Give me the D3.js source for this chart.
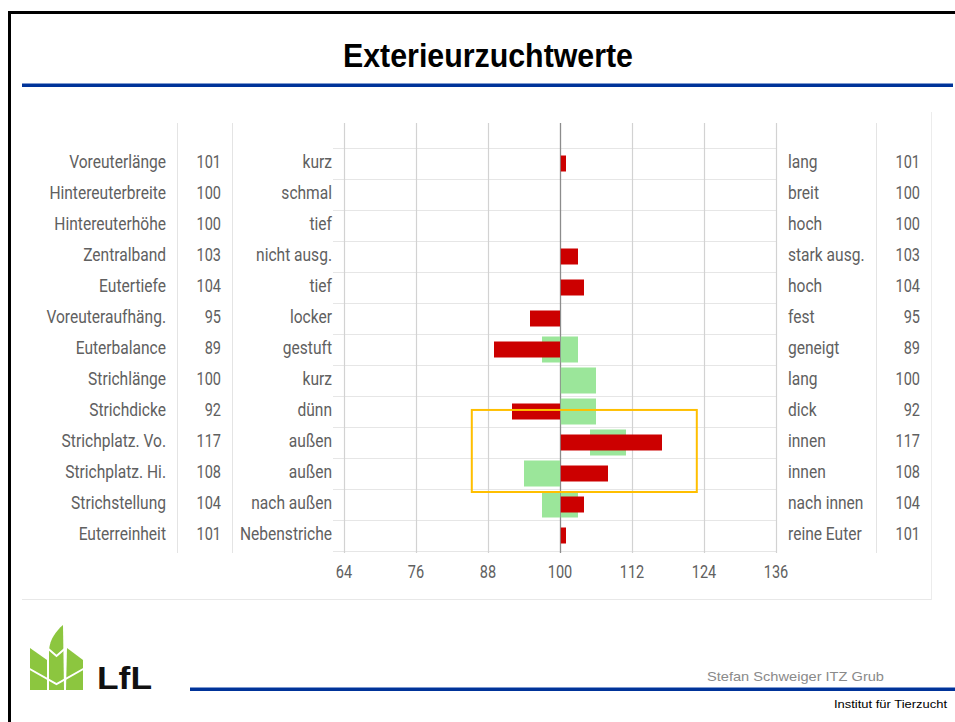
<!DOCTYPE html>
<html>
<head>
<meta charset="utf-8">
<script src="https://cdn.jsdelivr.net/npm/d3@7"></script>
<style>
  html, body { margin: 0; padding: 0; background: #fff; }
  svg { display: block; }
</style>
</head>
<body>
<svg id="chart" width="955" height="722"></svg>
<script>
// ---------- data ----------
const traits = ["Voreuterlänge","Hintereuterbreite","Hintereuterhöhe","Zentralband","Eutertiefe","Voreuteraufhäng.","Euterbalance","Strichlänge","Strichdicke","Strichplatz. Vo.","Strichplatz. Hi.","Strichstellung","Euterreinheit"];
const values = [101,100,100,103,104,95,89,100,92,117,108,104,101];
const leftLabels = ["kurz","schmal","tief","nicht ausg.","tief","locker","gestuft","kurz","dünn","außen","außen","nach außen","Nebenstriche"];
const rightLabels = ["lang","breit","hoch","stark ausg.","hoch","fest","geneigt","lang","dick","innen","innen","nach innen","reine Euter"];
const greenFrom = [null,null,null,null,null,null,97,100,100,105,94,97,null];
const greenTo   = [null,null,null,null,null,null,103,106,106,111,100,103,null];
const xTicks = [64,76,88,100,112,124,136];
const highlightX = [85.3, 122.8];
const highlightRows = ["Strichdicke","Strichstellung"];
const titleText = "Exterieurzuchtwerte";
const authorText = "Stefan Schweiger ITZ Grub";
const instituteText = "Institut für Tierzucht";
const logoText = "LfL";

// ---------- setup ----------
const svg = d3.select("#chart");
const x = d3.scaleLinear().domain([64,136]).range([344,776]);
const y = d3.scaleBand().domain(traits).range([148,551]).padding(0);
const bw = y.bandwidth();
const rows = traits.map((t,i)=>({t, v: values[i], l: leftLabels[i], r: rightLabels[i], g0: greenFrom[i], g1: greenTo[i]}));

const labelColor = "#606060";
const FONT = "Roboto, 'Noto Sans', sans-serif";

// page frame
svg.append("rect").attr("x",8).attr("y",11).attr("width",3).attr("height",720).attr("fill","#000");
svg.append("rect").attr("x",8).attr("y",11).attr("width",950).attr("height",3).attr("fill","#000");

// title
svg.append("text").attr("x",488).attr("y",67).attr("text-anchor","middle")
  .attr("font-family","'Liberation Sans Narrow','Liberation Sans',Arial,sans-serif")
  .attr("font-weight","bold").attr("font-size",34)
  .attr("textLength",290).attr("lengthAdjust","spacingAndGlyphs")
  .attr("fill","#000").text(titleText);

// blue rule under title
svg.append("rect").attr("x",22).attr("y",83).attr("width",931).attr("height",1).attr("fill","#7f9ad0");
svg.append("rect").attr("x",22).attr("y",84).attr("width",931).attr("height",3).attr("fill","#003399");

// panel border (light)
svg.append("line").attr("x1",22).attr("x2",932).attr("y1",599.5).attr("y2",599.5).attr("stroke","#e8e8e8");
svg.append("line").attr("x1",931.5).attr("x2",931.5).attr("y1",112).attr("y2",600).attr("stroke","#ececec");

// column separators
[177,232,876].forEach(cx=>{
  svg.append("line").attr("x1",cx+0.5).attr("x2",cx+0.5).attr("y1",123).attr("y2",553)
    .attr("stroke","#e4e4e4").attr("stroke-width",1);
});

// horizontal row separators
const seps = traits.map(t=>y(t)).concat([y(traits[traits.length-1])+bw]);
svg.append("g").selectAll("line").data(seps).join("line")
  .attr("x1",333).attr("x2",x(136)).attr("y1",d=>Math.round(d)+0.5).attr("y2",d=>Math.round(d)+0.5)
  .attr("stroke","#e6e6e6").attr("stroke-width",1.2);

// vertical grid lines
svg.append("g").selectAll("line").data(xTicks).join("line")
  .attr("x1",d=>Math.round(x(d))+0.5).attr("x2",d=>Math.round(x(d))+0.5)
  .attr("y1",123).attr("y2",553)
  .attr("stroke",d=>d===100?"#8c8c8c":"#d2d2d2").attr("stroke-width",d=>d===100?1.3:1.2);

// green bars
svg.append("g").selectAll("rect").data(rows.filter(d=>d.g0!==null)).join("rect")
  .attr("x",d=>x(d.g0)).attr("width",d=>x(d.g1)-x(d.g0))
  .attr("y",d=>y(d.t)+bw/2-13).attr("height",26)
  .attr("fill","#9be69a");

// red bars
svg.append("g").selectAll("rect").data(rows.filter(d=>d.v!==100)).join("rect")
  .attr("x",d=>x(Math.min(d.v,100))).attr("width",d=>Math.abs(x(d.v)-x(100)))
  .attr("y",d=>y(d.t)+bw/2-8).attr("height",16)
  .attr("fill","#cc0000");

// redraw 100 line on top
svg.append("line").attr("x1",Math.round(x(100))+0.5).attr("x2",Math.round(x(100))+0.5)
  .attr("y1",123).attr("y2",553).attr("stroke","#8c8c8c").attr("stroke-width",1).attr("opacity",0.8);

// highlight box
const hy0 = y(highlightRows[0]) + bw*0.45;
const hy1 = y(highlightRows[1]) + 3;
svg.append("rect").attr("x",x(highlightX[0])).attr("y",hy0)
  .attr("width",x(highlightX[1])-x(highlightX[0])).attr("height",hy1-hy0)
  .attr("fill","none").attr("stroke","#ffbf00").attr("stroke-width",2);

// text helper with horizontal condensing
function ctext(g, tx, ty, str, anchor, sx){
  g.append("text").attr("transform",`translate(${tx},${ty}) scale(${sx},1)`)
    .attr("text-anchor",anchor).attr("font-family",FONT).attr("font-size",17.5)
    .attr("fill",labelColor).text(str);
}
const tg = svg.append("g");
rows.forEach(d=>{
  const by = y(d.t)+bw/2+4.5;
  ctext(tg,166,by,d.t,"end",0.89);
  ctext(tg,221,by,String(d.v),"end",0.83);
  ctext(tg,332,by,d.l,"end",0.89);
  ctext(tg,788,by,d.r,"start",0.89);
  ctext(tg,920,by,String(d.v),"end",0.83);
});
// x tick labels
xTicks.forEach(t=>{
  ctext(tg,x(t),578,String(t),"middle",0.83);
});

// footer
svg.append("rect").attr("x",190).attr("y",687).attr("width",765).attr("height",1).attr("fill","#7f9ad0");
svg.append("rect").attr("x",190).attr("y",688).attr("width",765).attr("height",3).attr("fill","#003399");
svg.append("text").attr("x",884).attr("y",681).attr("text-anchor","end")
  .attr("font-family","'Liberation Sans',Arial,sans-serif").attr("font-size",13.5)
  .attr("textLength",177).attr("lengthAdjust","spacingAndGlyphs")
  .attr("fill","#8a8a8a").text(authorText);
svg.append("text").attr("x",947).attr("y",708).attr("text-anchor","end")
  .attr("font-family","'Liberation Sans',Arial,sans-serif").attr("font-size",11.5)
  .attr("textLength",113).attr("lengthAdjust","spacingAndGlyphs")
  .attr("fill","#000").text(instituteText);

// logo
const logo = svg.append("g");
const green = "#8cc63f";
logo.append("path").attr("fill",green)
  .attr("d","M30,648 L47,660 L47,690 L30,690 Z");
logo.append("path").attr("fill",green)
  .attr("d","M83,660 L67,648 L66,690 L83,690 Z");
logo.append("path").attr("fill",green)
  .attr("d","M49,690 L49,650 C50,639 56,631 63,625 L64,690 Z");
// white chevrons
logo.append("path").attr("fill","none").attr("stroke","#fff").attr("stroke-width",2)
  .attr("d","M28,668 L56.5,684 L85,668");
logo.append("path").attr("fill","none").attr("stroke","#fff").attr("stroke-width",2)
  .attr("d","M45,646 L56.5,656 L68,646");
logo.append("text").attr("x",97).attr("y",689)
  .attr("font-family","'Liberation Sans',Arial,sans-serif").attr("font-weight","bold")
  .attr("font-size",31).attr("textLength",55).attr("lengthAdjust","spacingAndGlyphs")
  .attr("fill","#111").text(logoText);
</script>
</body>
</html>
